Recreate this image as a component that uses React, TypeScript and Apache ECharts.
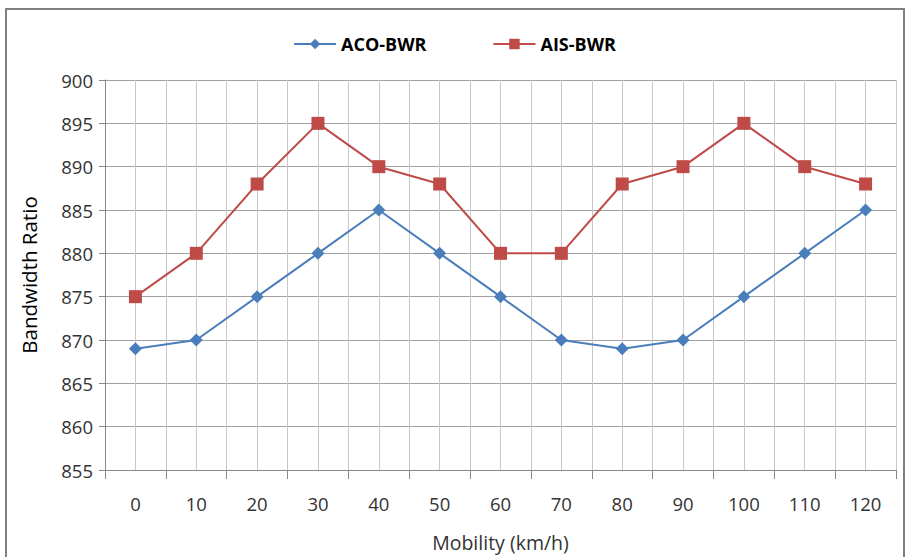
import React, { useEffect, useRef } from "react";
import * as echarts from "echarts";

const categories = ["0", "10", "20", "30", "40", "50", "60", "70", "80", "90", "100", "110", "120"];
const acoBwr = [869, 870, 875, 880, 885, 880, 875, 870, 869, 870, 875, 880, 885];
const aisBwr = [875, 880, 888, 895, 890, 888, 880, 880, 888, 890, 895, 890, 888];

const FONT = "'Open Sans', sans-serif";

export default function App() {
  const ref = useRef<HTMLDivElement>(null);
  useEffect(() => {
    if (!ref.current) return;
    const chart = echarts.init(ref.current, undefined, { renderer: "svg" });
    chart.setOption({
      animation: false,
      backgroundColor: "#ffffff",
      graphic: [
        {
          type: "rect",
          shape: { x: 6, y: 9, width: 898, height: 580 },
          style: { fill: "none", stroke: "#808080", lineWidth: 2 },
          silent: true,
        },
      ],
      legend: {
        top: 30,
        left: "center",
        itemGap: 66,
        itemWidth: 42,
        itemHeight: 13,
        textStyle: { fontFamily: FONT, fontSize: 18, fontWeight: "bold", color: "#000" },
        data: ["ACO-BWR", "AIS-BWR"],
      },
      grid: { left: 105, right: 13, top: 80, bottom: 85, containLabel: false },
      xAxis: [
        {
          type: "category",
          data: categories,
          boundaryGap: true,
          name: "Mobility (km/h)",
          nameLocation: "middle",
          nameGap: 62,
          nameTextStyle: { fontFamily: FONT, fontSize: 19.5, color: "#333" },
          axisLine: { lineStyle: { color: "#888", width: 1 } },
          axisTick: { show: true, length: 9, lineStyle: { color: "#888" } },
          axisLabel: { fontFamily: FONT, fontSize: 18.5, color: "#333", margin: 24 },
          splitLine: { show: false },
        },
        {
          type: "value",
          min: 0,
          max: 26,
          interval: 1,
          show: true,
          position: "bottom",
          axisLine: { show: false },
          axisTick: { show: false },
          axisLabel: { show: false },
          splitLine: { show: true, lineStyle: { color: "#c8c8c8", width: 1 } },
        },
      ],
      yAxis: {
        type: "value",
        min: 855,
        max: 900,
        interval: 5,
        name: "Bandwidth Ratio",
        nameLocation: "middle",
        nameGap: 66,
        nameTextStyle: { fontFamily: FONT, fontSize: 20.5, color: "#000" },
        axisLine: { show: true, lineStyle: { color: "#888" } },
        axisTick: { show: true, length: 6, lineStyle: { color: "#888" } },
        axisLabel: { fontFamily: FONT, fontSize: 18.5, color: "#333", margin: 12 },
        splitLine: { show: true, lineStyle: { color: "#a0a0a0", width: 1 } },
      },
      series: [
        {
          name: "ACO-BWR",
          type: "line",
          xAxisIndex: 0,
          data: acoBwr,
          symbol: "diamond",
          symbolSize: 13,
          itemStyle: { color: "#4a7ebb" },
          lineStyle: { color: "#4a7ebb", width: 2 },
        },
        {
          name: "AIS-BWR",
          type: "line",
          xAxisIndex: 0,
          data: aisBwr,
          symbol: "rect",
          symbolSize: 13,
          itemStyle: { color: "#be4b48" },
          lineStyle: { color: "#be4b48", width: 2 },
        },
      ],
    });
    return () => chart.dispose();
  }, []);
  return <div ref={ref} style={{ width: 909, height: 557, position: "absolute", left: 0, top: 0 }} />;
}
